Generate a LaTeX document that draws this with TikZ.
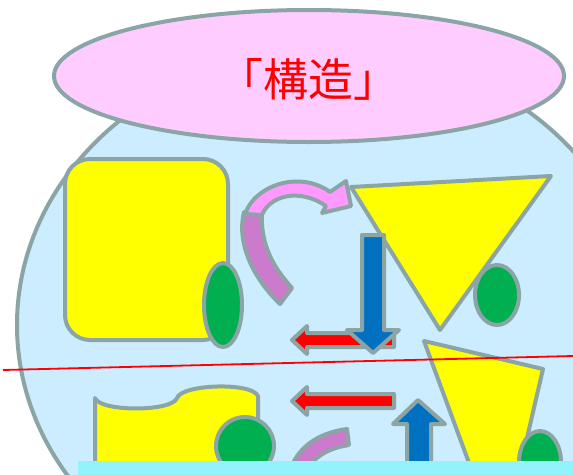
\documentclass[tikz,border=0pt]{standalone}
\usepackage{fontspec}
\newfontfamily\cjk{Noto Sans CJK JP}
\definecolor{bd}{RGB}{139,165,166}
\definecolor{bgblue}{RGB}{204,236,255}
\definecolor{pinkell}{RGB}{255,204,255}
\definecolor{yel}{RGB}{255,255,0}
\definecolor{grn}{RGB}{0,176,80}
\definecolor{blu}{RGB}{0,112,192}
\definecolor{pinkarr}{RGB}{255,153,255}
\definecolor{vio}{RGB}{204,122,204}
\definecolor{cyanbar}{RGB}{146,243,252}
\tikzset{
  shp/.style={draw=bd, line width=4pt, line join=round},
  yshape/.style={shp, fill=yel},
  gshape/.style={shp, fill=grn},
  rarrow/.style={shp, fill=red},
  barrow/.style={shp, fill=blu},
}
\begin{document}
\begin{tikzpicture}[x=1pt,y=-1pt]
\useasboundingbox (0,0) rectangle (573,474);
\clip (0,0) rectangle (573,474);
% background big ellipse
\draw[shp, fill=bgblue] (330,325) ellipse [x radius=313pt, y radius=276pt];
% title ellipse
\draw[shp, fill=pinkell] (309,76) ellipse [x radius=255pt, y radius=66pt];
\node[text=red, font=\cjk\fontsize{45}{50}\selectfont, inner sep=0pt] (title) at (308,79) {「構造」};
% upper left rounded rectangle and green ellipse
\draw[yshape, rounded corners=25pt] (65,159) rectangle (228,340);
\draw[gshape] (223,305) ellipse [x radius=19pt, y radius=42pt];
% curved arrow (upper)
\draw[shp, fill=vio] (244,212) .. controls (236,245) and (255,280) .. (280,304) -- (292,288) .. controls (274,268) and (260,245) .. (262,212) -- cycle;
\draw[shp, fill=pinkarr] (245,214) .. controls (255,185) and (300,170) .. (330,192) -- (346,181) -- (351,206) -- (322,213) -- (326,206) .. controls (300,188) and (270,195) .. (262,215) -- cycle;
% upper triangle and green ellipse
\draw[yshape] (351,187) -- (551,176) -- (440,330) -- cycle;
\draw[gshape] (497,295) ellipse [x radius=22pt, y radius=30pt];
% upper red arrow
\draw[rarrow] (292,340) -- (307,326) -- (307,333) -- (394,333) -- (394,347) -- (307,347) -- (307,354) -- cycle;
% blue down arrow
\draw[barrow] (362,235) -- (384,235) -- (384,330) -- (399,330) -- (373,353) -- (347,330) -- (362,330) -- cycle;
% lower left yellow shape and green circle
\draw[yshape] (95,490) -- (95,398) .. controls (100,412) and (172,412) .. (177,398) .. controls (182,384) and (252,382) .. (258,396) -- (258,490) -- cycle;
\draw[gshape] (245,446) circle [radius=29pt];
% lower red arrow
\draw[rarrow] (292,401) -- (307,387) -- (307,394) -- (394,394) -- (394,408) -- (307,408) -- (307,415) -- cycle;
% lower curved arrow
\draw[shp, fill=vio] (290,470) .. controls (300,442) and (325,432) .. (347,429) -- (349,445) .. controls (330,448) and (312,456) .. (305,475) -- cycle;
% blue up arrow
\draw[barrow] (418,400) -- (445,424) -- (431,424) -- (431,490) -- (407,490) -- (407,424) -- (393,424) -- cycle;
% lower trapezoid and green ellipse
\draw[yshape] (424,341) -- (543,369) -- (515,490) -- (479,490) -- cycle;
\draw[gshape] (540,462) ellipse [x radius=21pt, y radius=31pt];
% red line
\coordinate (l1) at (3,370);
\coordinate (l2) at (573,356);
\draw[red, line width=1.8pt] (l1) -- (l2);
% cyan bar
\fill[cyanbar] (78,461) rectangle (573,480);
\end{tikzpicture}
\end{document}
